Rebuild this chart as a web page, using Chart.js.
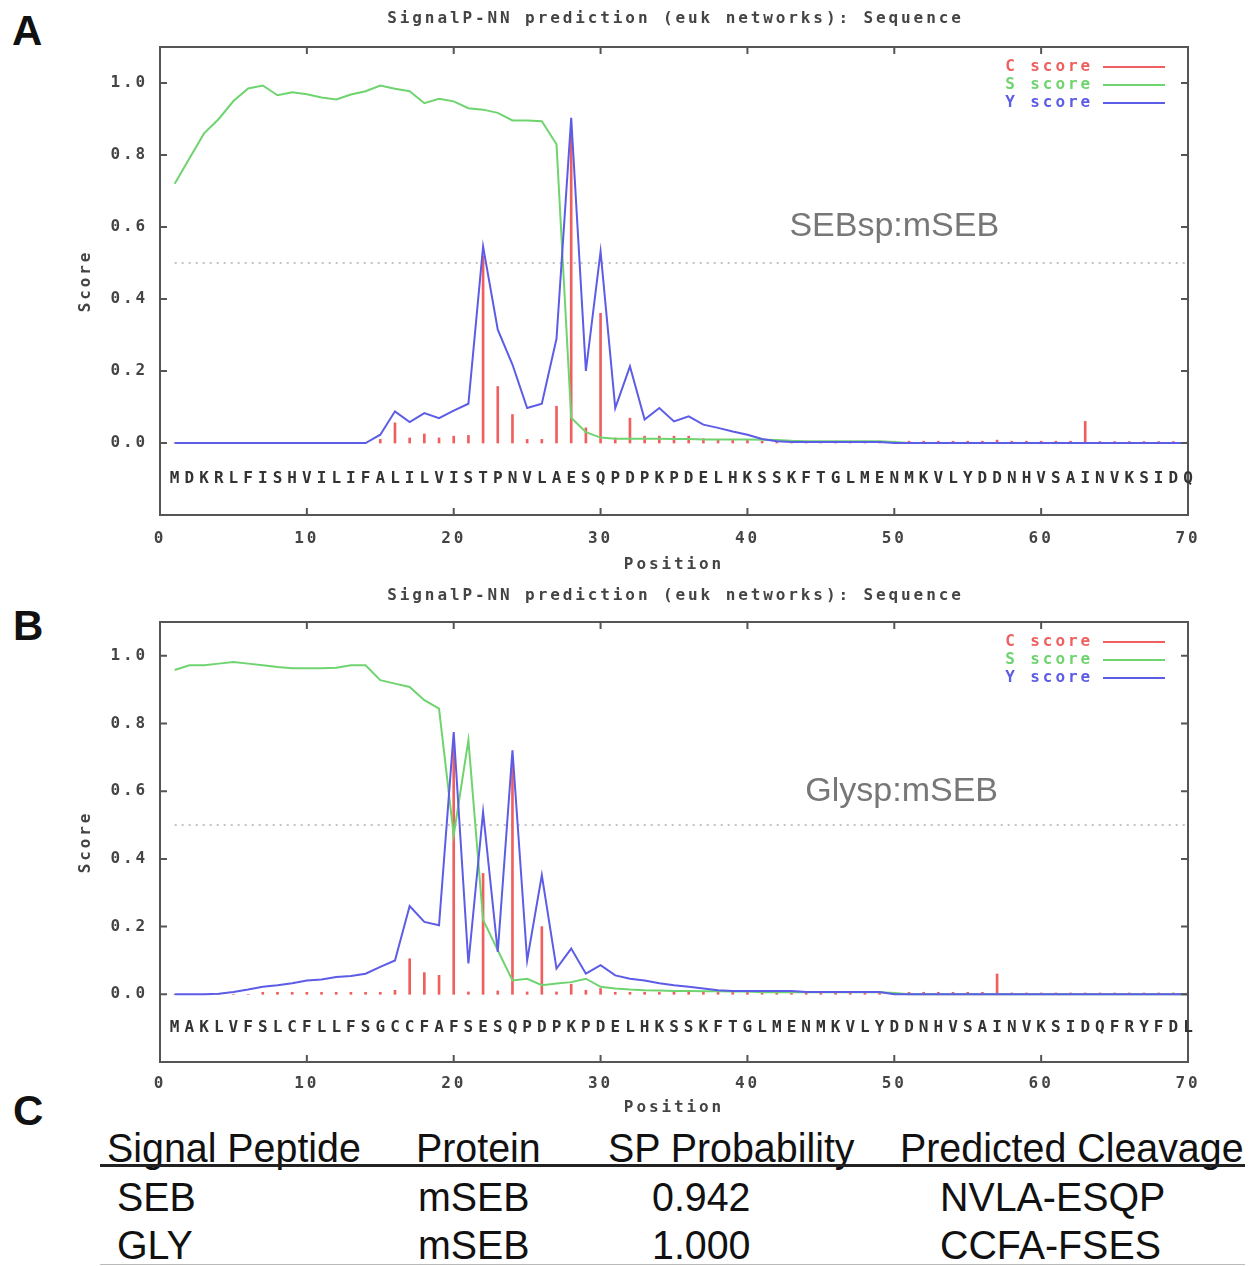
<!DOCTYPE html>
<html>
<head>
<meta charset="utf-8">
<script src="https://cdn.jsdelivr.net/npm/chart.js@4.4.1/dist/chart.umd.min.js"></script>
<style>
  body { margin: 0; background: #fff; width: 1257px; height: 1266px; position: relative; overflow: hidden;
         font-family: "Liberation Sans", Arial, sans-serif; }
  canvas { position: absolute; left: 0; }
  .panel { position: absolute; font-weight: bold; font-size: 42px; line-height: 1; color: #111; }
  .cell { position: absolute; font-size: 41px; line-height: 1; color: #111; white-space: nowrap;
          transform: scaleX(0.96); transform-origin: left top; }
  .rule { position: absolute; left: 100px; width: 1145px; }
</style>
</head>
<body>
<div class="panel" style="left:12px;top:10px">A</div>
<div class="panel" style="left:13px;top:605px">B</div>
<div class="panel" style="left:13px;top:1090px">C</div>
<canvas id="chartA" width="1257" height="580" style="top:0"></canvas>
<canvas id="chartB" width="1257" height="545" style="top:577px"></canvas>
<div id="table"></div>
<script>
// sequences (one residue per position 1..70)
const seqA = "MDKRLFISHVILIFALILVISTPNVLAESQPDPKPDELHKSSKFTGLMENMKVLYDDNHVSAINVKSIDQ";
const seqB = "MAKLVFSLCFLLFSGCCFAFSESQPDPKPDELHKSSKFTGLMENMKVLYDDNHVSAINVKSIDQFRYFDL";

// panel A scores, positions 1..70
const cScoreA = [0,0,0,0,0,0,0,0,0,0, 0,0,0,0,0.01,0.056,0.014,0.025,0.014,0.019,
  0.021,0.52,0.157,0.079,0.01,0.01,0.102,0.86,0.042,0.36, 0.014,0.069,0.019,0.019,0.019,0.019,0.012,0.01,0.01,0.008,
  0.005,0.005,0.005,0.005,0.005,0.005,0.005,0.005,0.005,0.005, 0.005,0.005,0.005,0.005,0.005,0.005,0.008,0.005,0.005,0.005,
  0.005,0.005,0.06,0.004,0.004,0.004,0.004,0.004,0.004,0.004];
const sScoreA = [0.72,0.79,0.86,0.90,0.95,0.985,0.993,0.966,0.974,0.969, 0.96,0.954,0.968,0.977,0.993,0.984,0.977,0.944,0.956,0.949,
  0.93,0.926,0.917,0.896,0.896,0.894,0.83,0.07,0.03,0.015, 0.012,0.012,0.012,0.012,0.011,0.011,0.01,0.01,0.01,0.01,
  0.009,0.008,0.006,0.005,0.005,0.005,0.005,0.005,0.005,0.003, 0,0,0,0,0,0,0,0,0,0, 0,0,0,0,0,0,0,0,0,0];
const yScoreA = [0,0,0,0,0,0,0,0,0,0, 0,0,0,0,0.023,0.088,0.058,0.083,0.069,0.09,
  0.109,0.546,0.315,0.218,0.097,0.109,0.29,0.903,0.2,0.532, 0.097,0.213,0.065,0.097,0.06,0.074,0.051,0.042,0.032,0.023,
  0.011,0.005,0.003,0.003,0.003,0.003,0.003,0.003,0.003,0, 0,0,0,0,0,0,0,0,0,0, 0,0,0,0,0,0,0,0,0,0];

// panel B scores, positions 1..70
const cScoreB = [0,0,0,0,0,0,0.006,0.006,0.006,0.006, 0.006,0.006,0.006,0.006,0.006,0.012,0.105,0.064,0.056,0.74,
  0.007,0.357,0.01,0.687,0.007,0.2,0.007,0.03,0.012,0.017, 0.006,0.006,0.006,0.006,0.006,0.006,0.006,0.006,0.006,0.006,
  0.006,0.006,0.006,0.006,0.006,0.006,0.006,0.006,0.006,0.006, 0.006,0.006,0.006,0.006,0.006,0.006,0.06,0.004,0.004,0.004,
  0.004,0.004,0.004,0.004,0.004,0.004,0.004,0.004,0.004,0.004];
const sScoreB = [0.958,0.972,0.972,0.977,0.982,0.977,0.972,0.967,0.963,0.963, 0.963,0.965,0.972,0.972,0.928,0.918,0.908,0.869,0.844,0.47,
  0.751,0.22,0.13,0.041,0.046,0.027,0.032,0.036,0.046,0.022, 0.017,0.014,0.012,0.011,0.01,0.01,0.009,0.009,0.008,0.008,
  0.006,0.006,0.006,0.006,0.006,0.006,0.006,0.006,0.006,0.004, 0,0,0,0,0,0,0,0,0,0, 0,0,0,0,0,0,0,0,0,0];
const yScoreB = [0,0,0,0.002,0.007,0.014,0.022,0.027,0.033,0.041, 0.044,0.051,0.054,0.061,0.081,0.1,0.261,0.214,0.204,0.775,
  0.091,0.539,0.125,0.721,0.1,0.352,0.076,0.135,0.061,0.086, 0.056,0.046,0.041,0.033,0.027,0.022,0.017,0.012,0.01,0.01,
  0.01,0.01,0.01,0.007,0.007,0.007,0.007,0.007,0.007,0, 0,0,0,0,0,0,0,0,0,0, 0,0,0,0,0,0,0,0,0,0];

const cutoff = 0.5;
const xTicks = [0, 10, 20, 30, 40, 50, 60, 70];
const yTicks = [0, 0.2, 0.4, 0.6, 0.8, 1.0];
const seriesNames = ["C score", "S score", "Y score"];
const seriesColors = ["#ef5f5f", "#6fd46f", "#5c5ce6"];

const tableHead = ["Signal Peptide", "Protein", "SP Probability", "Predicted Cleavage"];
const tableRows = [
  ["SEB", "mSEB", "0.942", "NVLA-ESQP"],
  ["GLY", "mSEB", "1.000", "CCFA-FSES"]
];

const MONO = '"DejaVu Sans Mono", monospace';
const SPACING = '2.9px';
const monoFont = { family: MONO, size: 16, weight: "bold" };

function points(seq, vals) {
  return seq.split("").map((_, i) => ({ x: i + 1, y: vals[i] }));
}

const decor = {
  id: "decor",
  beforeLayout(chart) { chart.ctx.letterSpacing = SPACING; },
  beforeDraw(chart) { chart.ctx.letterSpacing = SPACING; },
  afterDraw(chart, args, opts) {
    const { ctx, chartArea: a, scales: { x, y } } = chart;
    ctx.save();
    // plot frame with inward ticks
    ctx.strokeStyle = "#555";
    ctx.lineWidth = 2;
    ctx.strokeRect(a.left, a.top, a.right - a.left, a.bottom - a.top);
    ctx.beginPath();
    yTicks.forEach(v => {
      const py = y.getPixelForValue(v);
      ctx.moveTo(a.left, py); ctx.lineTo(a.left + 7, py);
      ctx.moveTo(a.right, py); ctx.lineTo(a.right - 7, py);
    });
    xTicks.forEach(v => {
      const px = x.getPixelForValue(v);
      ctx.moveTo(px, a.bottom); ctx.lineTo(px, a.bottom - 7);
      ctx.moveTo(px, a.top); ctx.lineTo(px, a.top + 7);
    });
    ctx.stroke();

    // title
    ctx.letterSpacing = SPACING;
    ctx.font = "bold 16px " + MONO;
    ctx.fillStyle = "#444";
    ctx.textAlign = "center";
    ctx.textBaseline = "middle";
    ctx.fillText(opts.title, (a.left + a.right) / 2 + 1.5, opts.titleY);

    // legend
    ctx.textAlign = "right";
    seriesNames.forEach((name, i) => {
      const py = a.top + 20 + 18 * i;
      ctx.fillStyle = seriesColors[i];
      ctx.fillText(name, a.right - 95, py);
      ctx.strokeStyle = seriesColors[i];
      ctx.lineWidth = 2;
      ctx.beginPath();
      ctx.moveTo(a.right - 85, py); ctx.lineTo(a.right - 23, py);
      ctx.stroke();
    });

    // residues
    ctx.letterSpacing = "0px";
    ctx.textAlign = "center";
    ctx.fillStyle = "#333";
    const sy = y.getPixelForValue(-0.1);
    opts.seq.split("").forEach((ch, i) => ctx.fillText(ch, x.getPixelForValue(i + 1), sy));

    // construct label
    ctx.font = '34px "Liberation Sans", Arial, sans-serif';
    ctx.fillStyle = "#777";
    ctx.fillText(opts.label, x.getPixelForValue(opts.labelAt[0]), y.getPixelForValue(opts.labelAt[1]));
    ctx.restore();
  }
};

function makeChart(id, seq, c, s, yv, p) {
  const canvas = document.getElementById(id);
  return new Chart(canvas, {
    type: "line",
    data: {
      datasets: [
        { type: "line", label: seriesNames[2], data: points(seq, yv), borderColor: seriesColors[2],
          borderWidth: 2, pointRadius: 0, tension: 0, order: 0 },
        { type: "line", label: seriesNames[1], data: points(seq, s), borderColor: seriesColors[1],
          borderWidth: 2, pointRadius: 0, tension: 0, order: 1 },
        { type: "bar", label: seriesNames[0], data: points(seq, c), backgroundColor: seriesColors[0],
          borderWidth: 0, barThickness: 2, order: 2 },
        { type: "line", label: "cutoff", data: [{ x: 1, y: cutoff }, { x: seq.length, y: cutoff }],
          borderColor: "#c4c4c4", borderWidth: 2, borderDash: [2, 5], pointRadius: 0, order: 3 }
      ]
    },
    options: {
      responsive: false,
      animation: false,
      events: [],
      layout: { padding: { left: 0, top: p.top, right: 69, bottom: 0 } },
      plugins: {
        legend: { display: false },
        tooltip: { enabled: false },
        decor: { title: "SignalP-NN prediction (euk networks): Sequence", titleY: 19, seq: seq,
                 label: p.label, labelAt: p.labelAt }
      },
      scales: {
        x: {
          type: "linear", min: 0, max: 70, offset: false,
          grid: { display: false, drawTicks: false }, border: { display: false },
          afterBuildTicks: sc => { sc.ticks = xTicks.map(v => ({ value: v })); },
          afterFit: sc => { sc.height = p.xHeight; },
          ticks: { padding: p.xPad, maxRotation: 0, autoSkip: false, color: "#444",
                   font: monoFont, callback: v => String(v) },
          title: { display: true, text: "Position", color: "#444", font: monoFont,
                   padding: { top: 0, bottom: p.titlePad } }
        },
        y: {
          min: -0.2, max: 1.1,
          grid: { display: false, drawTicks: false }, border: { display: false },
          afterBuildTicks: sc => { sc.ticks = yTicks.map(v => ({ value: v })); },
          afterFit: sc => { sc.width = 160; },
          ticks: { padding: 12, color: "#444", font: monoFont, callback: v => v.toFixed(1) },
          title: { display: true, text: "Score", color: "#444", font: monoFont,
                   padding: { top: 76, bottom: 0 } }
        }
      }
    },
    plugins: [decor]
  });
}

makeChart("chartA", seqA, cScoreA, sScoreA, yScoreA,
  { top: 47, xHeight: 65, xPad: 14, titlePad: 6, label: "SEBsp:mSEB", labelAt: [50.0, 0.6] });
makeChart("chartB", seqB, cScoreB, sScoreB, yScoreB,
  { top: 45, xHeight: 60, xPad: 12, titlePad: 5, label: "Glysp:mSEB", labelAt: [50.5, 0.6] });

// table C
const table = document.getElementById("table");
const headLeft = [107, 416, 608, 900];
const rowLeft = [117, 418, 652, 940];
function cell(text, left, top) {
  const d = document.createElement("div");
  d.className = "cell";
  d.style.left = left + "px";
  d.style.top = top + "px";
  d.textContent = text;
  table.appendChild(d);
}
tableHead.forEach((t, i) => cell(t, headLeft[i], 1128));
tableRows.forEach((row, r) => row.forEach((t, i) => cell(t, rowLeft[i], 1177 + r * 48)));
const rule = document.createElement("div");
rule.className = "rule";
rule.style.cssText = "top:1164px;height:3px;background:#222";
table.appendChild(rule);
const rule2 = document.createElement("div");
rule2.className = "rule";
rule2.style.cssText = "top:1264px;height:1px;background:#bbb";
table.appendChild(rule2);
</script>
</body>
</html>
